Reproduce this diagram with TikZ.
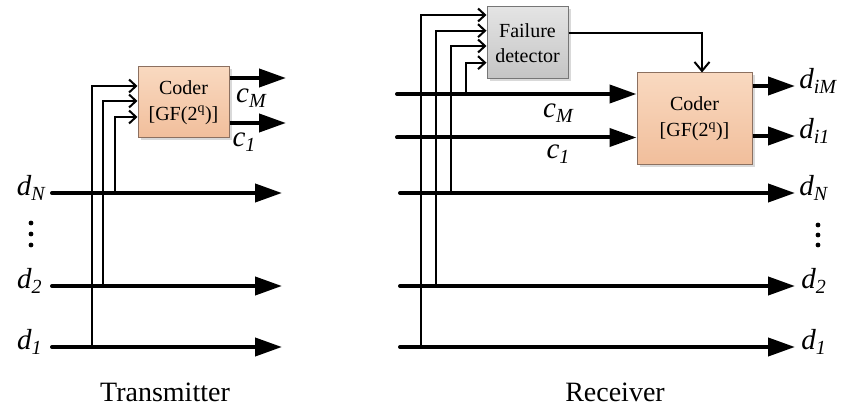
\documentclass[tikz,border=0pt]{standalone}
\usepackage{fontspec}
\setmainfont{Liberation Serif}
\usetikzlibrary{arrows.meta,calc,shadows}

\definecolor{coderTop}{RGB}{249,217,192}
\definecolor{coderBot}{RGB}{241,190,155}
\definecolor{coderLine}{RGB}{140,112,96}
\definecolor{fdTop}{RGB}{228,228,228}
\definecolor{fdBot}{RGB}{196,196,196}
\definecolor{fdLine}{RGB}{118,118,118}

\newcommand{\lsub}[2]{#1\raisebox{-5pt}{\fontsize{20}{20}\selectfont #2}}

\tikzset{every picture/.style={line width=0.75pt}}
\tikzset{
  bus/.style={line width=4pt, line cap=round, -{Triangle[length=27pt,width=18pt]}},
  tap/.style={line width=2pt, -{Straight Barb[length=7pt,width=13pt]}},
  ctrl/.style={line width=2pt, -{Straight Barb[length=9pt,width=15pt]}},
  blockbox/.style={inner sep=0pt, align=center, line width=1pt,
    font=\fontsize{20}{26}\selectfont,
    drop shadow={shadow xshift=2.5pt, shadow yshift=-2.5pt, opacity=0.3, fill=gray}},
  coderbox/.style={blockbox, draw=coderLine, top color=coderTop, bottom color=coderBot},
  fdbox/.style={blockbox, draw=fdLine, top color=fdTop, bottom color=fdBot,
    font=\fontsize{20}{25}\selectfont},
  lab/.style={inner sep=0pt, font=\fontsize{29}{29}\selectfont\itshape},
  caption/.style={inner sep=0pt, font=\fontsize{28}{28}\selectfont},
}

\begin{document}
\begin{tikzpicture}[x=1pt,y=1pt,yscale=-1]
\useasboundingbox (0,0) rectangle (847,409);

%%% Transmitter
%Shape: Coder
\node[coderbox, minimum width=91pt, minimum height=71pt] (txcoder) at (183.5,102.5) {Coder\\{[GF(2\textsuperscript{q})]}};
%Labels of the data lines
\node[lab, anchor=mid east] (txdN) at (45,193) {\lsub{d}{N}};
\node[lab, anchor=mid east] (txd2) at (42,286) {\lsub{d}{2}};
\node[lab, anchor=mid east] (txd1) at (42,347) {\lsub{d}{1}};
\foreach \yy in {223,234,245} \fill (31,\yy) circle (2.4);
\coordinate (txdNe) at (282,193);
\coordinate (txd2e) at (282,286);
\coordinate (txd1e) at (282,347);
%Data lines
\draw[bus, shorten <=7pt] (txdN.mid east) -- (txdNe);
\draw[bus, shorten <=10pt] (txd2.mid east) -- (txd2e);
\draw[bus, shorten <=10pt] (txd1.mid east) -- (txd1e);
%Taps into the coder
\coordinate (txt1) at (92,347);
\coordinate (txt2) at (103,286);
\coordinate (txt3) at (115,193);
\draw[tap] (txt1) |- ($(txcoder.west)+(0,-16.5)$);
\draw[tap] (txt2) |- ($(txcoder.west)+(0,-1.5)$);
\draw[tap] (txt3) |- ($(txcoder.west)+(0,14.5)$);
%Coder outputs
\coordinate (txcMe) at (286,78);
\coordinate (txc1e) at (286,123);
\draw[bus, line cap=butt] (txcoder.east |- txcMe) -- (txcMe);
\draw[bus, line cap=butt] (txcoder.east |- txc1e) -- (txc1e);
\node[lab] (txcM) at (251,98) {\lsub{c}{M}};
\node[lab] (txc1) at (244,142) {\lsub{c}{1}};
\node[caption] (txname) at (165,392) {Transmitter};

%%% Receiver
%Shape: Failure detector
\node[fdbox, minimum width=81pt, minimum height=72pt] (fdet) at (527.5,43) {Failure\\detector};
%Shape: Coder
\node[coderbox, minimum width=115pt, minimum height=92pt] (rxcoder) at (694.5,119) {Coder\\{[GF(2\textsuperscript{q})]}};
%Labels of the data lines
\node[lab, anchor=mid west] (rxdiM) at (799,86) {\lsub{d}{iM}};
\node[lab, anchor=mid west] (rxdi1) at (799,136) {\lsub{d}{i1}};
\node[lab, anchor=mid west] (rxdN) at (799,193) {\lsub{d}{N}};
\node[lab, anchor=mid west] (rxd2) at (801,286) {\lsub{d}{2}};
\node[lab, anchor=mid west] (rxd1) at (801,347) {\lsub{d}{1}};
\foreach \yy in {225,235,245} \fill (818,\yy) circle (2.4);
%Incoming lines
\coordinate (rxcMs) at (397,94);
\coordinate (rxc1s) at (397,137.5);
\coordinate (rxdNs) at (400,193);
\coordinate (rxd2s) at (400,286);
\coordinate (rxd1s) at (400,347);
\draw[bus] (rxcMs) -- (rxcMs -| rxcoder.west);
\draw[bus] (rxc1s) -- (rxc1s -| rxcoder.west);
\draw[bus, shorten >=4pt] (rxdNs) -- (rxdN.mid west);
\draw[bus, shorten >=6pt] (rxd2s) -- (rxd2.mid west);
\draw[bus, shorten >=6pt] (rxd1s) -- (rxd1.mid west);
\node[lab] (rxcM) at (558,113) {\lsub{c}{M}};
\node[lab] (rxc1) at (558,154) {\lsub{c}{1}};
%Taps into the failure detector
\coordinate (rxt1) at (421,347);
\coordinate (rxt2) at (435.5,286);
\coordinate (rxt3) at (451,193);
\coordinate (rxt4) at (466,94);
\draw[tap] (rxt1) |- ($(fdet.west)+(0,-28)$);
\draw[tap] (rxt2) |- ($(fdet.west)+(0,-12.3)$);
\draw[tap] (rxt3) |- ($(fdet.west)+(0,3)$);
\draw[tap] (rxt4) |- ($(fdet.west)+(0,19.7)$);
%Failure detector to coder
\draw[ctrl] ($(fdet.east)+(0,-9.7)$) -| ($(rxcoder.north)+(7.5,0)$);
%Coder outputs
\draw[bus, line cap=butt, shorten >=4pt] (rxdiM.mid west -| rxcoder.east) -- (rxdiM.mid west);
\draw[bus, line cap=butt, shorten >=4pt] (rxdi1.mid west -| rxcoder.east) -- (rxdi1.mid west);
\node[caption] (rxname) at (615,392) {Receiver};
\end{tikzpicture}
\end{document}
